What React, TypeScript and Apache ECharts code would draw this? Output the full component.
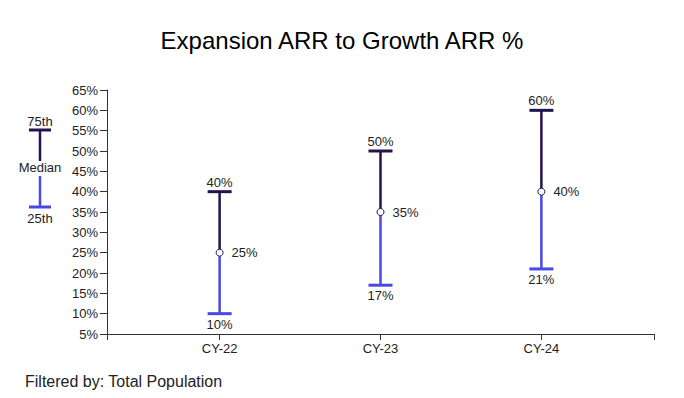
import React, { useEffect, useRef } from "react";
import * as echarts from "echarts";

const categories = ["CY-22", "CY-23", "CY-24"];
const p25 = [10, 17, 21];
const median = [25, 35, 40];
const p75 = [40, 50, 60];
const yTicks = { min: 5, max: 65, interval: 5 };
const xRange = { min: -0.7, max: 2.7 };

const DARK = "#22134f";
const BLUE = "#4a48e4";
const FONT = "Arial, 'Liberation Sans', sans-serif";

export default function App() {
  const ref = useRef<HTMLDivElement>(null);
  useEffect(() => {
    if (!ref.current) return;
    const chart = echarts.init(ref.current, null, { renderer: "svg" });
    const data = categories.map((c, i) => [i, p25[i], median[i], p75[i]]);
    const catIdx = categories.map((c, i) => i);
    const option: any = {
      animation: false,
      title: {
        text: "Expansion ARR to Growth ARR %",
        left: "center",
        top: 23,
        textStyle: { fontFamily: FONT, fontSize: 24, fontWeight: "normal", color: "#000" },
      },
      grid: { left: 107, right: 30, top: 90, bottom: 64 },
      xAxis: {
        type: "value",
        min: xRange.min,
        max: xRange.max,
        splitLine: { show: false },
        axisLine: { show: true, onZero: false, lineStyle: { color: "#333", width: 1 } },
        axisTick: {
          show: true,
          length: 6,
          lineStyle: { color: "#333" },
          customValues: [xRange.min, ...catIdx, xRange.max],
        },
        axisLabel: {
          customValues: catIdx,
          formatter: (v: number) => categories[Math.round(v)] ?? "",
          fontFamily: FONT,
          fontSize: 13,
          color: "#222",
          margin: 8,
        },
      },
      yAxis: {
        type: "value",
        min: yTicks.min,
        max: yTicks.max,
        interval: yTicks.interval,
        splitLine: { show: false },
        axisLine: { show: true, onZero: false, lineStyle: { color: "#333", width: 1 } },
        axisTick: { show: true, length: 7, lineStyle: { color: "#333" } },
        axisLabel: {
          formatter: (v: number) => v + "%",
          fontFamily: FONT,
          fontSize: 13,
          color: "#222",
          margin: 9,
        },
      },
      series: [
        {
          type: "custom",
          data,
          encode: { x: 0, y: [1, 2, 3] },
          renderItem: (params: any, api: any) => {
            const i = api.value(0);
            const lo = api.value(1);
            const med = api.value(2);
            const hi = api.value(3);
            const pLo = api.coord([i, lo]);
            const pMed = api.coord([i, med]);
            const pHi = api.coord([i, hi]);
            const x = pMed[0];
            const hw = 12;
            const ts = { fontFamily: FONT, fontSize: 13, fill: "#222" };
            return {
              type: "group",
              children: [
                { type: "line", shape: { x1: x, y1: pMed[1], x2: x, y2: pHi[1] }, style: { stroke: DARK, lineWidth: 2.5 } },
                { type: "line", shape: { x1: x, y1: pMed[1], x2: x, y2: pLo[1] }, style: { stroke: BLUE, lineWidth: 2.5 } },
                { type: "line", shape: { x1: x - hw, y1: pHi[1], x2: x + hw, y2: pHi[1] }, style: { stroke: DARK, lineWidth: 3 } },
                { type: "line", shape: { x1: x - hw, y1: pLo[1], x2: x + hw, y2: pLo[1] }, style: { stroke: BLUE, lineWidth: 3 } },
                { type: "circle", shape: { cx: x, cy: pMed[1], r: 3.5 }, style: { fill: "#fff", stroke: DARK, lineWidth: 1 } },
                { type: "text", x, y: pHi[1] - 3, style: { ...ts, text: hi + "%", align: "center", verticalAlign: "bottom" } },
                { type: "text", x, y: pLo[1] + 4, style: { ...ts, text: lo + "%", align: "center", verticalAlign: "top" } },
                { type: "text", x: x + 12, y: pMed[1], style: { ...ts, text: med + "%", align: "left", verticalAlign: "middle" } },
              ],
            };
          },
        },
      ],
      graphic: [
        { type: "text", x: 40, y: 121, style: { text: "75th", fontFamily: FONT, fontSize: 13, fill: "#222", align: "center", verticalAlign: "middle" } },
        { type: "line", shape: { x1: 29, y1: 130, x2: 51, y2: 130 }, style: { stroke: DARK, lineWidth: 3 } },
        { type: "line", shape: { x1: 40, y1: 130, x2: 40, y2: 161 }, style: { stroke: DARK, lineWidth: 2.5 } },
        { type: "text", x: 40, y: 167, style: { text: "Median", fontFamily: FONT, fontSize: 13, fill: "#222", align: "center", verticalAlign: "middle" } },
        { type: "line", shape: { x1: 40, y1: 176, x2: 40, y2: 207 }, style: { stroke: BLUE, lineWidth: 2.5 } },
        { type: "line", shape: { x1: 29, y1: 207, x2: 51, y2: 207 }, style: { stroke: BLUE, lineWidth: 3 } },
        { type: "text", x: 40, y: 218, style: { text: "25th", fontFamily: FONT, fontSize: 13, fill: "#222", align: "center", verticalAlign: "middle" } },
        { type: "text", x: 25, y: 381, style: { text: "Filtered by: Total Population", fontFamily: FONT, fontSize: 16, fill: "#222", align: "left", verticalAlign: "middle" } },
      ],
    };
    chart.setOption(option);
    return () => chart.dispose();
  }, []);
  return <div ref={ref} style={{ position: "fixed", left: 0, top: 0, width: 684, height: 398, background: "#fff" }} />;
}
